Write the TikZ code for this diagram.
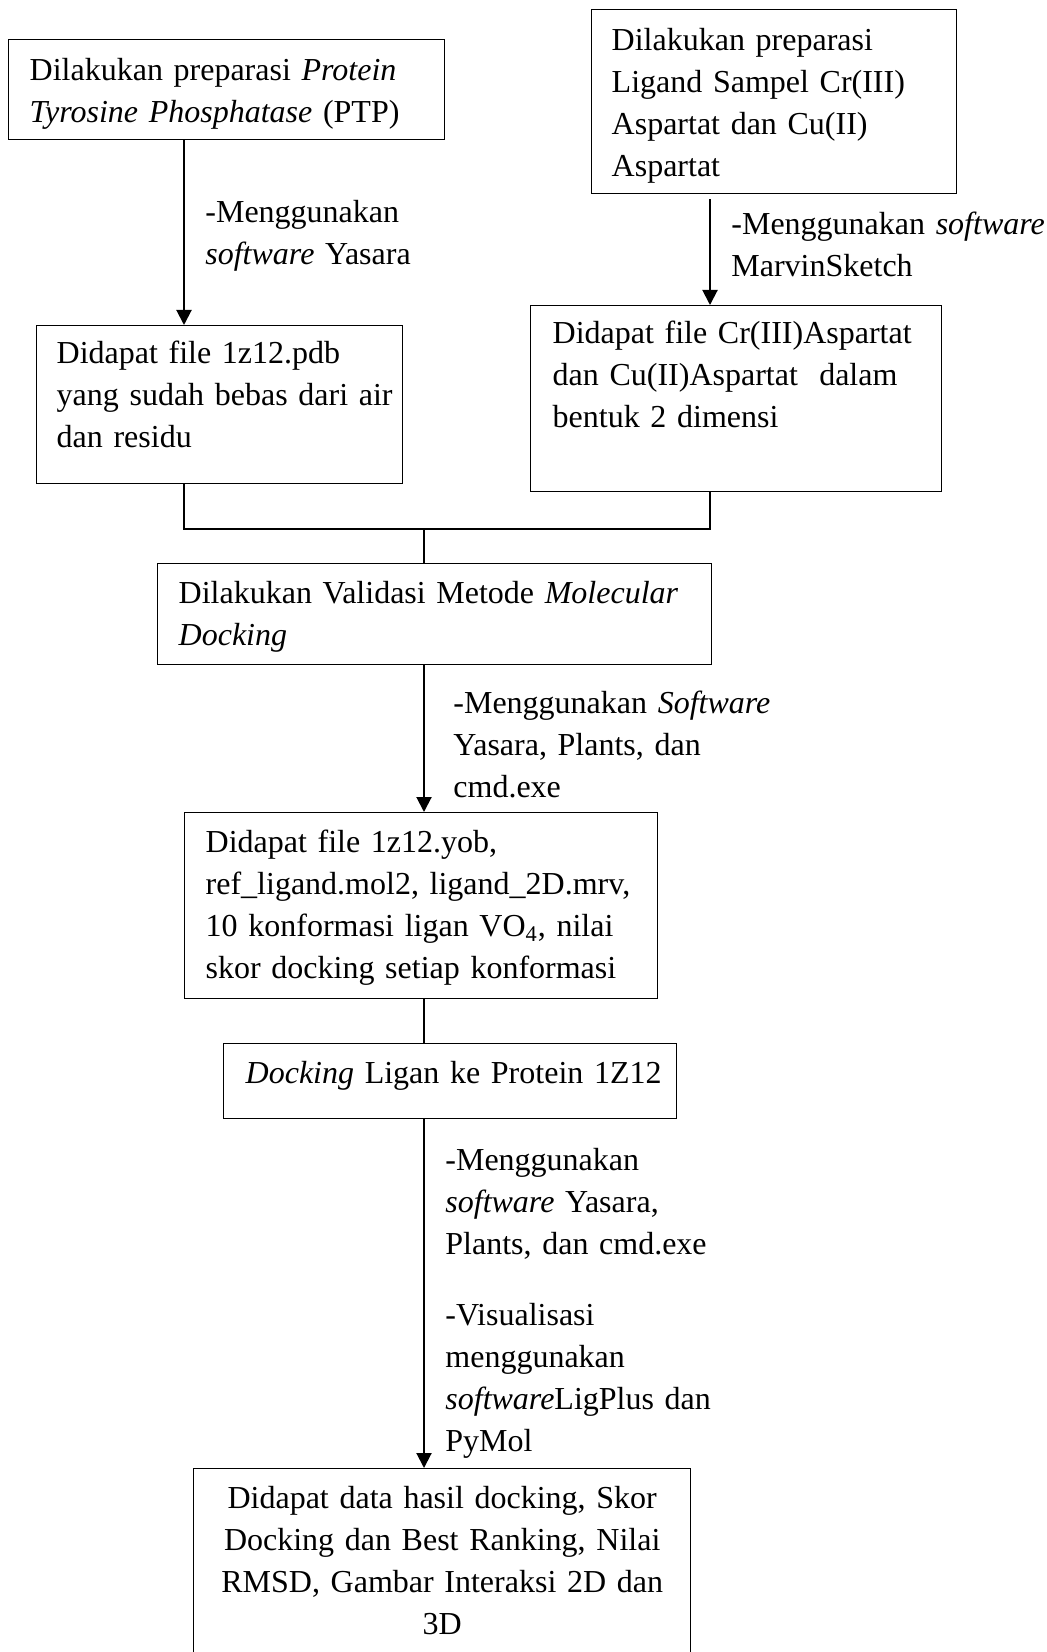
\documentclass[tikz,border=0pt]{standalone}
\usepackage{fontspec}
\setmainfont[Ligatures=NoCommon]{Liberation Serif}
\usetikzlibrary{arrows.meta}

\tikzset{
  box/.style={draw, line width=0.7pt, anchor=north west, inner ysep=0pt, align=left,
    font=\fontsize{16}{21}\selectfont,
    execute at begin node={\rightskip=0pt plus 1fil minus 30pt}},
  midbox/.style={box, align=center, execute at begin node={\centering}},
  lbl/.style={anchor=base west, inner sep=0pt, align=left, text width=160pt,
    font=\fontsize{16}{21}\selectfont},
  arr/.style={-{Triangle[width=7.5pt,length=7.5pt]}, line width=1pt},
  joinline/.style={line width=0.7pt}
}

\begin{document}
\begin{tikzpicture}[x=0.5pt,y=-0.5pt]
  \useasboundingbox (0,0) rectangle (1046,1652);
  % boxes
  \node[box, inner xsep=10.5pt, text width=197pt, text height=20.5pt, text depth=29.5pt] (1) at (8,39)
    {Dilakukan preparasi \textit{Protein}\\\textit{Tyrosine Phosphatase} (PTP)};
  \node[box, inner xsep=10pt, text width=163pt, text height=19pt, text depth=60pt] (2) at (36,325)
    {Didapat file 1z12.pdb\\yang sudah bebas dari air\\dan residu};
  \node[box, inner xsep=10pt, text width=162.5pt, text height=20.5pt, text depth=71.5pt] (3) at (591,9)
    {Dilakukan preparasi\\Ligand Sampel Cr(III)\\Aspartat dan Cu(II)\\Aspartat};
  \node[box, inner xsep=11pt, text width=183.5pt, text height=19pt, text depth=74pt] (4) at (530,305)
    {Didapat file Cr(III)Aspartat\\dan Cu(II)Aspartat\ \ dalam\\bentuk 2 dimensi};
  \node[box, inner xsep=10.5pt, text width=256pt, text height=20pt, text depth=30.5pt] (5) at (157,563)
    {Dilakukan Validasi Metode \textit{Molecular}\\\textit{Docking}};
  \node[box, inner xsep=10.5pt, text width=215.5pt, text height=20pt, text depth=73pt] (6) at (184,812)
    {Didapat file 1z12.yob,\\ref\_ligand.mol2, ligand\_2D.mrv,\\10 konformasi ligan VO\textsubscript{4}, nilai\\skor docking setiap konformasi};
  \node[box, inner xsep=11pt, text width=204.5pt, text height=20pt, text depth=17.5pt] (7) at (223,1043)
    {\textit{Docking} Ligan ke Protein 1Z12};
  \node[midbox, inner xsep=10pt, text width=228.5pt, text height=20pt, text depth=86pt] (8) at (193,1468)
    {Didapat data hasil docking, Skor\\Docking dan Best Ranking, Nilai\\RMSD, Gambar Interaksi 2D dan\\3D};
  % labels
  \node[lbl] (l1) at (205,223) {-Menggunakan\\\textit{software} Yasara};
  \node[lbl] (l2) at (731,235) {-Menggunakan \textit{software}\\MarvinSketch};
  \node[lbl] (l3) at (453,713) {-Menggunakan \textit{Software}\\Yasara, Plants, dan\\cmd.exe};
  \node[lbl] (l4) at (445,1170) {-Menggunakan\\\textit{software} Yasara,\\Plants, dan cmd.exe\\[14.5pt]-Visualisasi\\menggunakan\\\textit{software}LigPlus dan\\PyMol};
  \coordinate (a) at (184,0);
  \coordinate (b) at (710,0);
  \coordinate (j) at (424,529);
  \begin{scope}[arr]
    \draw (1.south -| a) to (2.north -| a);
    \draw[shorten <=2.5pt] (3.south -| b) to (4.north -| b);
    \draw (5.south -| j) to (6.north -| j);
    \draw (7.south -| j) to (8.north -| j);
  \end{scope}
  \begin{scope}[joinline]
    \draw (2.south -| a) |- (j) -| (4.south -| b);
    \draw (j) to (5.north -| j);
    \draw (6.south -| j) to (7.north -| j);
  \end{scope}
\end{tikzpicture}
\end{document}
